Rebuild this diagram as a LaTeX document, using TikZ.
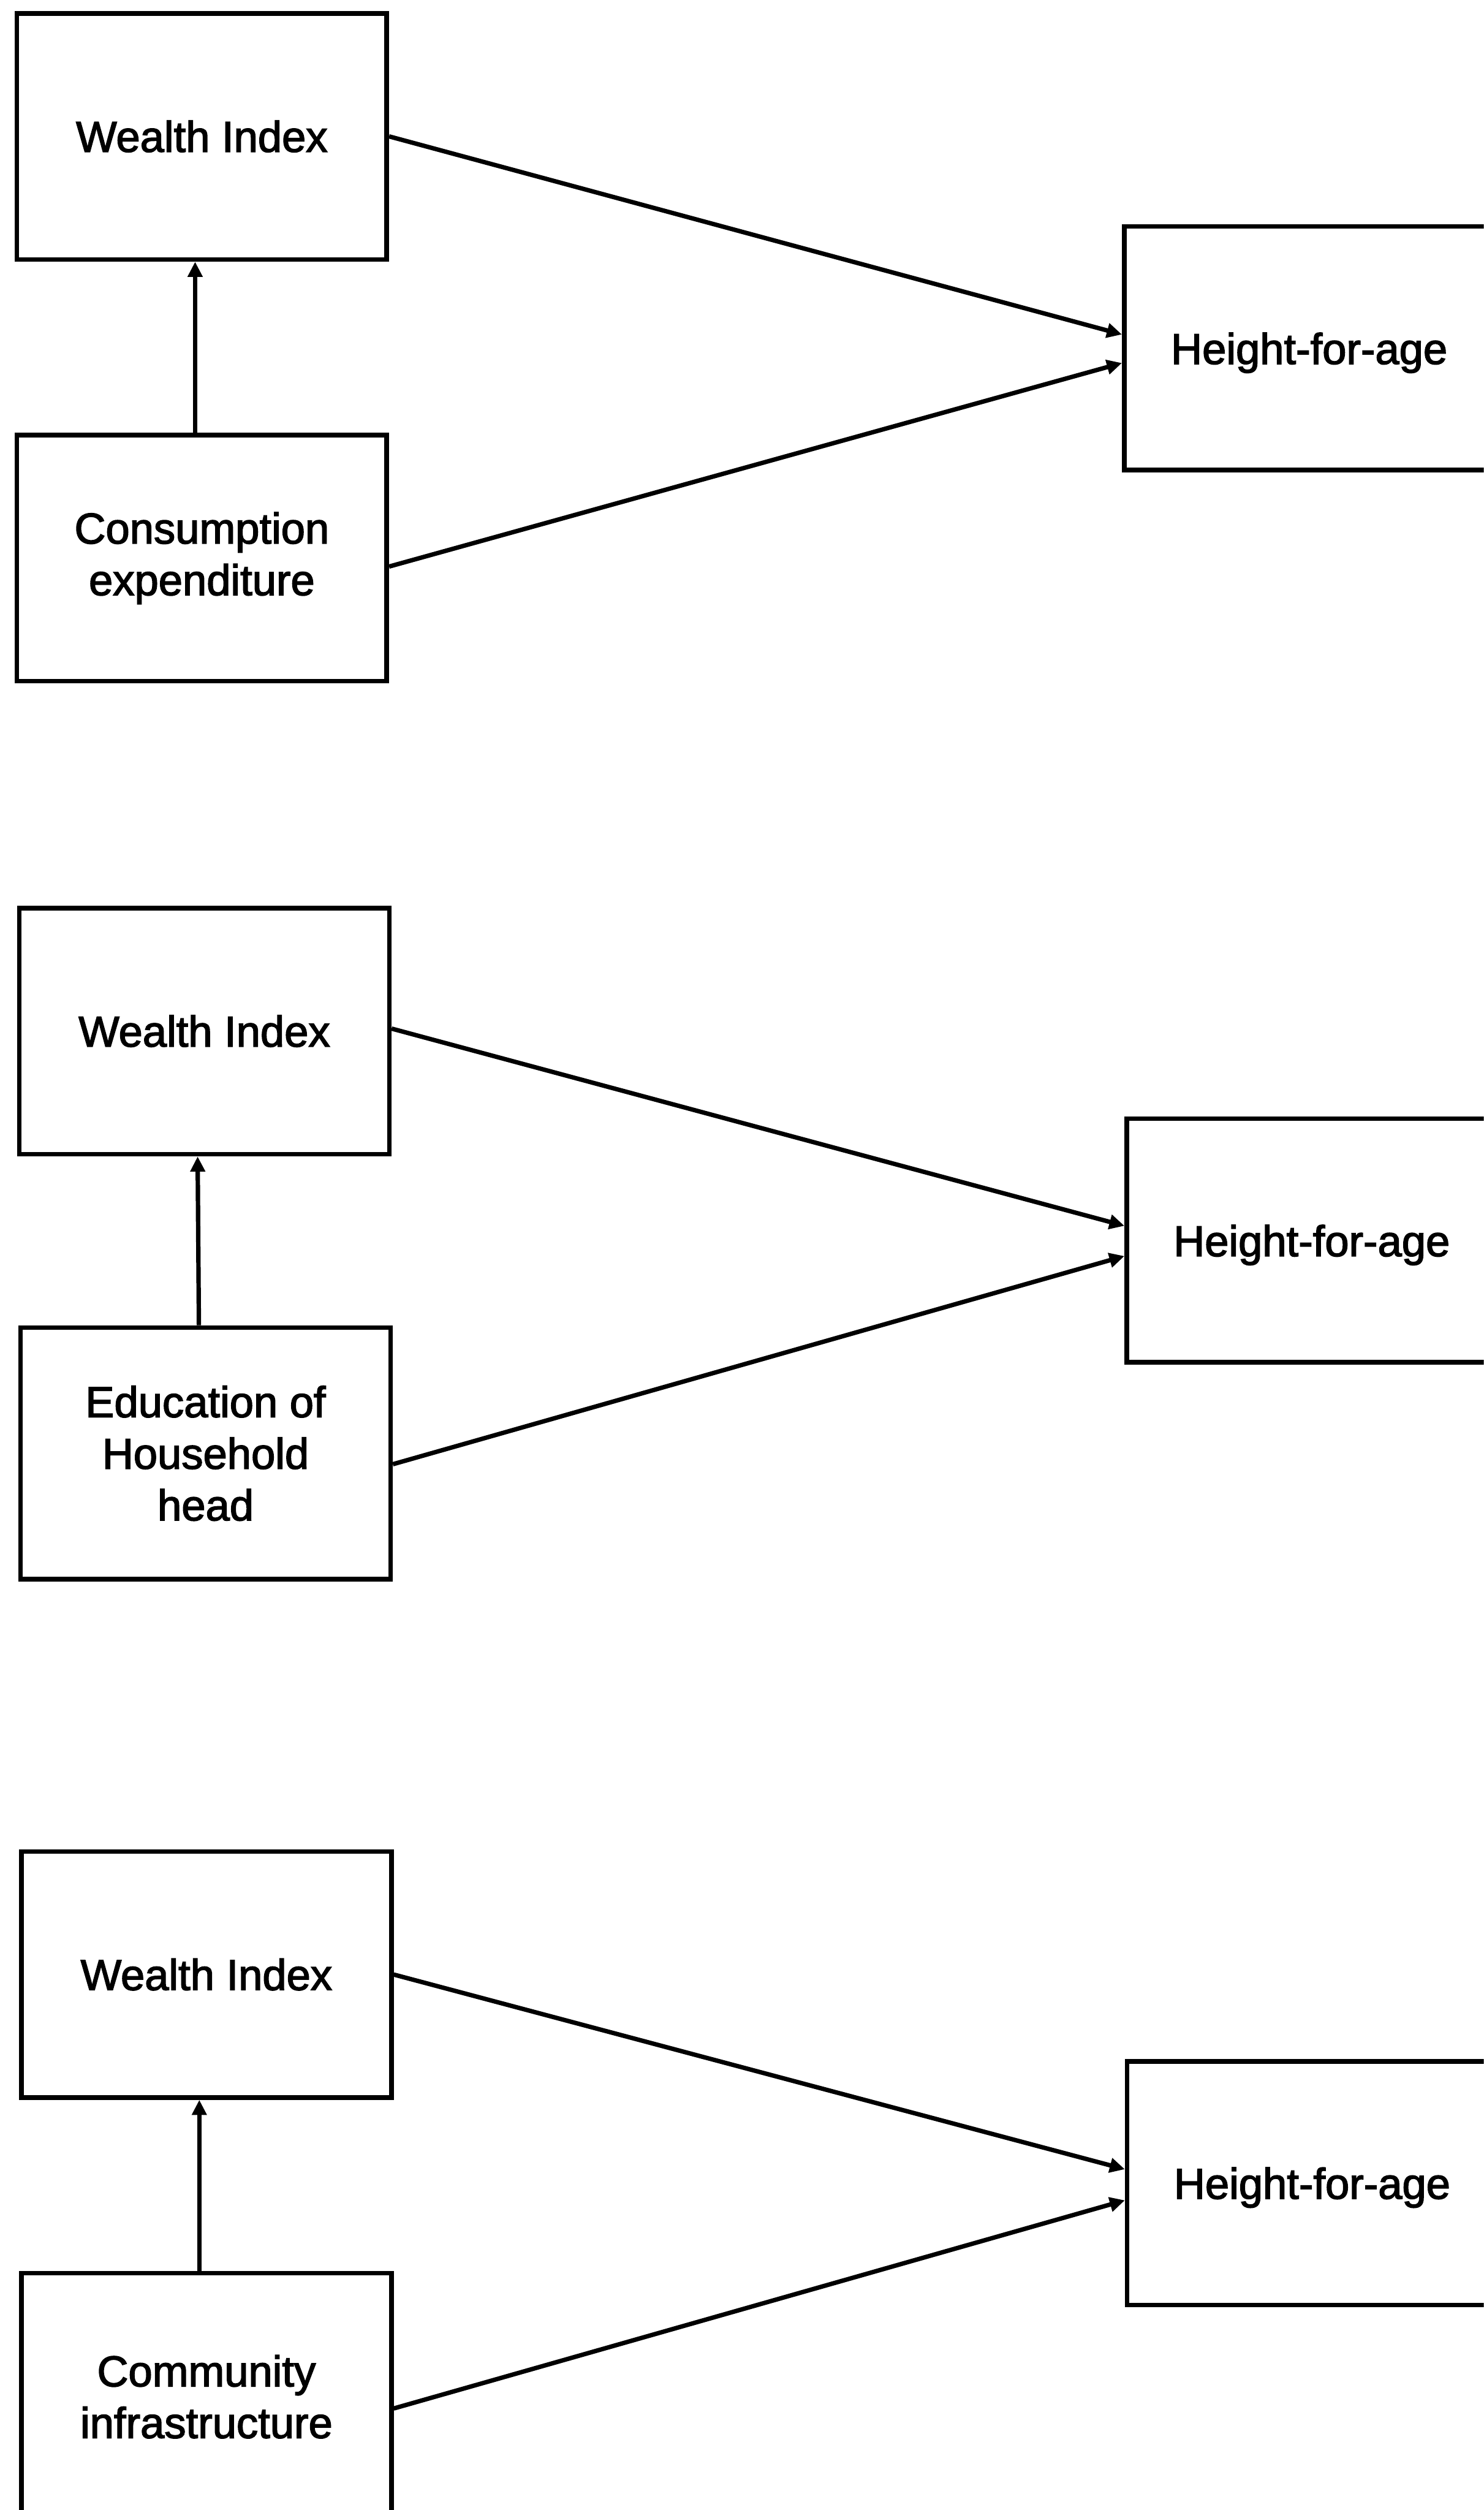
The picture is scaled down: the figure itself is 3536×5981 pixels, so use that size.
\documentclass[tikz,border=0pt]{standalone}
\usepackage{fontspec}
\setmainfont{Liberation Sans}[FakeBold=2.2]
\usetikzlibrary{arrows.meta}
\begin{document}
\begin{tikzpicture}[x=0.01cm,y=-0.01cm,
  box/.style={draw=black, line width=0.11cm, rectangle, minimum width=8.81cm,
    minimum height=5.86cm, inner sep=0pt, align=center,
    font=\fontsize{29.3pt}{35pt}\selectfont},
  outcome/.style={box, minimum height=5.8cm, text depth=0pt},
  link/.style={line width=0.105cm, -{Triangle[length=0.36cm,width=0.34cm]}},
]
\useasboundingbox (0,0) rectangle (3536,5981);
\clip (0,0) rectangle (3536,5981);
\fill[white] (0,0) rectangle (3536,5981);

% --- Model 1: consumption expenditure ---
\node[box] (wi1) at (481,325) {Wealth Index};
\node[box] (ce) at (481,1330) {Consumption\\expenditure};
\node[outcome] (h1) at (3120,830) {Height-for-age};
\draw[link] (wi1.east) -- ([yshift=0.33cm]h1.west);
\draw[link] ([yshift=-0.2cm]ce.east) -- ([yshift=-0.35cm]h1.west);
\draw[link] ([xshift=-0.16cm]ce.north) -- ([xshift=-0.16cm]wi1.south);

% --- Model 2: education of household head ---
\node[box] (wi2) at (487,2457) {Wealth Index};
\node[box, minimum height=5.99cm] (ed) at (490,3463) {Education of\\Household\\head};
\node[outcome] (h2) at (3126,2956) {Height-for-age};
\draw[link] ([yshift=0.06cm]wi2.east) -- ([yshift=0.35cm]h2.west);
\draw[link] ([yshift=-0.26cm]ed.east) -- ([yshift=-0.37cm]h2.west);
\draw[link] ([xshift=-0.16cm]ed.north) -- ([xshift=-0.16cm]wi2.south);

% --- Model 3: community infrastructure ---
\node[box] (wi3) at (492,4705) {Wealth Index};
\node[box, minimum height=5.88cm] (ci) at (492,5711) {Community\\infrastructure};
\node[outcome] (h3) at (3127,5202) {Height-for-age};
\draw[link] (wi3.east) -- ([yshift=0.33cm]h3.west);
\draw[link] ([yshift=-0.28cm]ci.east) -- ([yshift=-0.41cm]h3.west);
\draw[link] ([xshift=-0.17cm]ci.north) -- ([xshift=-0.17cm]wi3.south);
\end{tikzpicture}
\end{document}
